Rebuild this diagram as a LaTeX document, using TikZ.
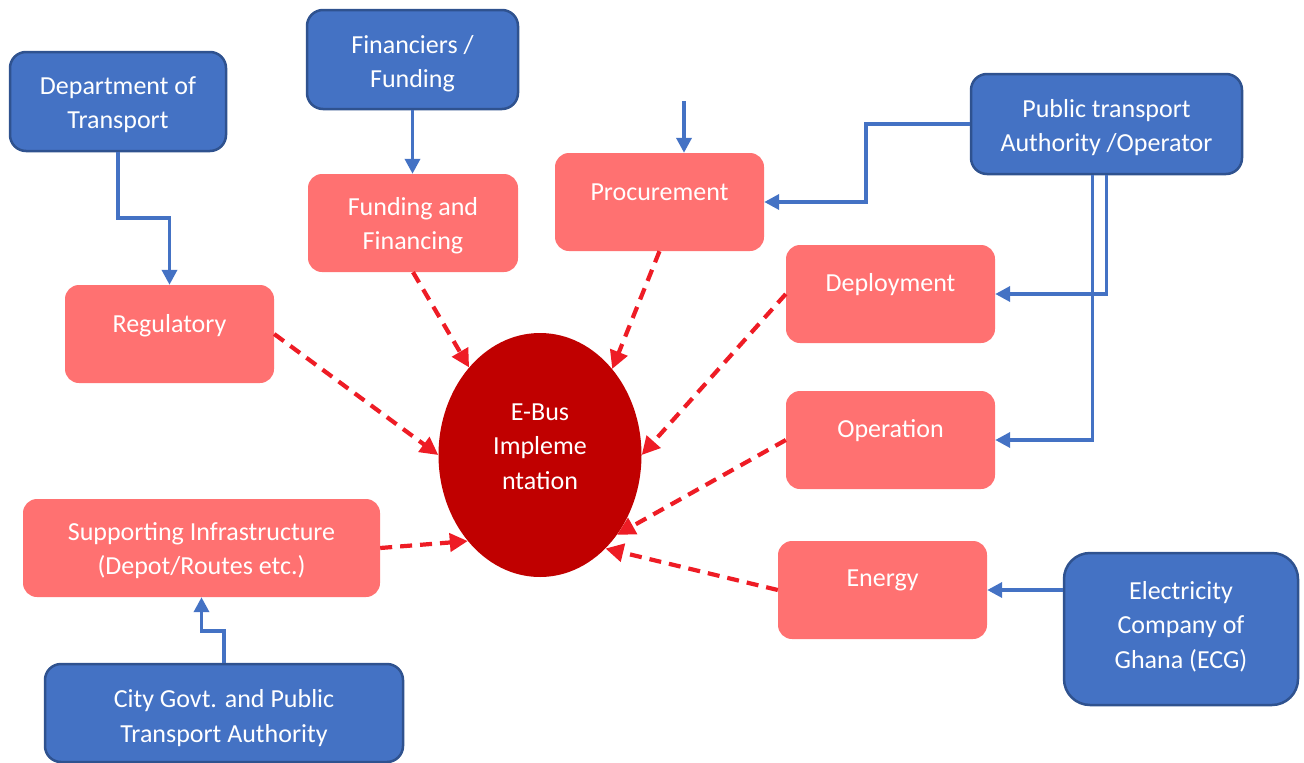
\documentclass[tikz,border=0pt]{standalone}
\usepackage{fontspec}
\setmainfont{Carlito}
\usetikzlibrary{arrows.meta,calc,shapes.geometric}
\definecolor{bfill}{HTML}{4472C4}
\definecolor{bedge}{HTML}{2F528F}
\definecolor{rfill}{HTML}{FF7171}
\definecolor{efill}{HTML}{C00000}
\definecolor{dred}{HTML}{EE1C25}
\tikzset{
  bluebox/.style={draw=bedge, line width=2.5pt, fill=bfill, rounded corners=16pt, inner sep=0pt},
  redbox/.style={fill=rfill, rounded corners=14pt, inner sep=0pt},
  txt/.style={text=white, align=center, inner sep=0pt, font=\fontsize{26}{34.5}\selectfont},
  barrow/.style={draw=bfill, line width=3.6pt, -{Triangle[length=15pt,width=15pt]}},
  rarrow/.style={draw=dred, line width=4.2pt, dash pattern=on 12pt off 8pt, -{Triangle[length=18pt,width=18pt]}},
}
\begin{document}
\begin{tikzpicture}[x=1pt,y=-1pt]
\useasboundingbox (0,0) rectangle (1304,763);
% blue boxes
\node[bluebox, minimum width=216pt, minimum height=99pt] (dept) at (118,101.5) {};
\node[txt] (dept-t) at (118,104.5) {Department of\\Transport};
\node[bluebox, minimum width=211pt, minimum height=99pt] (fin) at (412.5,59.5) {};
\node[txt] (fin-t) at (412.5,63.5) {Financiers /\\Funding};
\node[bluebox, minimum width=271pt, minimum height=100pt] (pta) at (1106.5,124) {};
\node[txt] (pta-t) at (1106.5,127.5) {Public transport\\Authority /Operator};
\node[bluebox, rounded corners=26pt, minimum width=234pt, minimum height=152pt] (ecg) at (1181,629) {};
\node[txt] (ecg-t) at (1181,626.5) {Electricity\\Company of\\Ghana (ECG)};
\node[bluebox, minimum width=358pt, minimum height=98pt] (city) at (224,713) {};
\node[txt] (city-t) at (224,718) {City Govt. and Public\\Transport Authority};
% red boxes
\node[redbox, minimum width=210pt, minimum height=98pt] (fund) at (413,223) {};
\node[txt] (fund-t) at (413,225.5) {Funding and\\Financing};
\node[redbox, minimum width=209pt, minimum height=98pt] (proc) at (659.5,202) {};
\node[txt] (proc-t) at (659.5,192.5) {Procurement};
\node[redbox, minimum width=209pt, minimum height=98pt] (reg) at (169.5,334) {};
\node[txt] (reg-t) at (169.5,325.5) {Regulatory};
\node[redbox, minimum width=209pt, minimum height=98pt] (dep) at (890.5,294) {};
\node[txt] (dep-t) at (890.5,284.5) {Deployment};
\node[redbox, minimum width=209pt, minimum height=98pt] (op) at (890.5,440) {};
\node[txt] (op-t) at (890.5,430.5) {Operation};
\node[redbox, minimum width=357pt, minimum height=98pt] (sup) at (201.5,548) {};
\node[txt] (sup-t) at (201.5,550.5) {Supporting Infrastructure\\(Depot/Routes etc.)};
\node[redbox, minimum width=209pt, minimum height=98pt] (en) at (882.5,590) {};
\node[txt] (en-t) at (882.5,580.5) {Energy};
% ellipse
\node[ellipse, fill=efill, minimum width=203pt, minimum height=244pt, inner sep=0pt] (eb) at (540,455) {};
\node[txt] (eb-t) at (540,446.5) {E-Bus\\Impleme\\ntation};
% blue connectors
\draw[barrow] (dept.south) -- ++(0,66) -| (reg.north);
\draw[barrow] (fin.south) -- (fin.south |- fund.north);
\coordinate (pin) at (684,101);
\draw[barrow] (pin) -- (pin |- proc.north);
\draw[barrow] (pta.west) -- ++(-104,0) |- (proc.east);
\draw[barrow] (pta.south) |- (dep.east);
\draw[barrow] ([xshift=-14pt]pta.south) |- (op.east);
\draw[barrow] (ecg.west |- en.east) -- (en.east);
\draw[barrow] (city.north) -- ++(0,-32) -| (sup.south);
% red dashed connectors
\draw[rarrow] (reg.east) -- (eb.west);
\draw[rarrow] (fund.south) -- (eb.129);
\draw[rarrow] (proc.south) -- (eb.50);
\draw[rarrow] (dep.west) -- (eb.east);
\draw[rarrow] (op.west) -- (eb.-46);
\draw[rarrow] (en.west) -- (eb.-55);
\draw[rarrow] (sup.east) -- (eb.-130);
\end{tikzpicture}
\end{document}
